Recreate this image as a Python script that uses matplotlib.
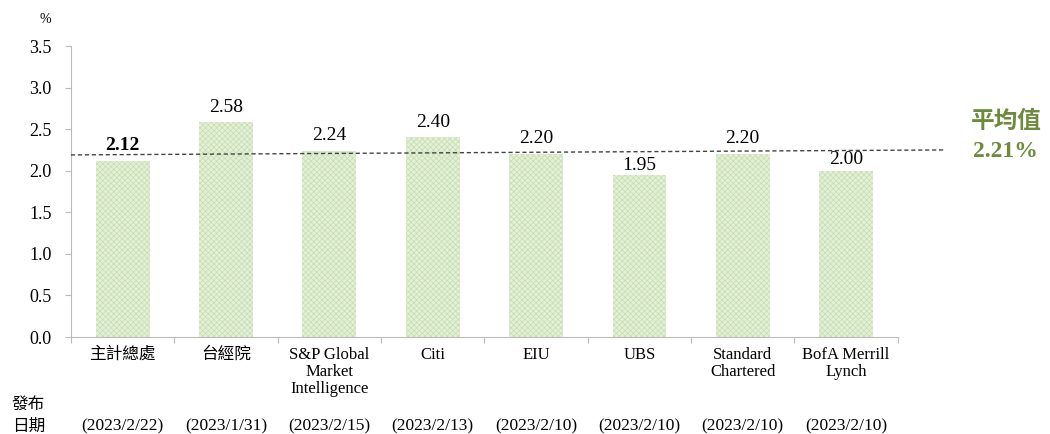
import matplotlib.pyplot as plt
import numpy as np

plt.rcParams['font.family'] = ['Liberation Serif', 'Noto Sans CJK TC', 'DejaVu Sans']
plt.rcParams['hatch.linewidth'] = 0.5

institutions = ['主計總處', '台經院', 'S&P Global\nMarket\nIntelligence', 'Citi', 'EIU', 'UBS',
                'Standard\nChartered', 'BofA Merrill\nLynch']
dates = ['(2023/2/22)', '(2023/1/31)', '(2023/2/15)', '(2023/2/13)', '(2023/2/10)',
         '(2023/2/10)', '(2023/2/10)', '(2023/2/10)']
growth = [2.12, 2.58, 2.24, 2.40, 2.20, 1.95, 2.20, 2.00]
average = 2.21

fig = plt.figure(figsize=(10.5, 4.34), dpi=100)
ax = fig.add_axes([0.0676, 0.2235, 0.7874, 0.6705])

x = np.arange(len(growth))
ax.bar(x, growth, width=0.52, color='#e3efd8', edgecolor='#c4deac', hatch='xxxxxx', linewidth=0)

# labels near the average line sit a bit lower in the original
offsets = [5, 5, 5, 5, 5, 0.5, 5, 2]
for i, v in enumerate(growth):
    ax.annotate(f'{v:.2f}', (i, v), xytext=(0, offsets[i]), textcoords='offset points',
                ha='center', va='bottom', fontsize=14,
                fontweight='bold' if i == 0 else 'normal', color='black', zorder=4)

# average line, runs past the right edge of the axes
ax.plot([-0.5, len(growth) - 0.5 + 0.45], [average - 0.02, average + 0.04], ls=(0, (3, 2)),
        color='#444444', lw=1.0, clip_on=False, zorder=3)

ax.set_xlim(-0.5, len(growth) - 0.5)
ax.set_ylim(0, 3.5)
ax.set_yticks(np.arange(0, 3.51, 0.5))
ax.set_yticklabels([f'{t:.1f}' for t in np.arange(0, 3.51, 0.5)], fontsize=13)
ax.set_xticks(np.arange(-0.5, len(growth), 1.0))
ax.set_xticklabels([])
ax.tick_params(axis='y', length=4, color='#bbbbbb', pad=10, direction='out')
ax.tick_params(axis='x', length=4, color='#bbbbbb', direction='out')
for s in ['top', 'right']:
    ax.spines[s].set_visible(False)
for s in ['left', 'bottom']:
    ax.spines[s].set_color('#bbbbbb')

for i, name in enumerate(institutions):
    ax.text(i, -0.12, name, ha='center', va='top', fontsize=12, linespacing=1.1)
    ax.text(i, -1.08, dates[i], ha='center', va='center', fontsize=12.5)

fig.text(0.043, 0.955, '%', fontsize=10, ha='center', va='center')
fig.text(0.011, 0.067, '發布', fontsize=12, ha='left', va='center')
fig.text(0.011, 0.016, '日期', fontsize=12, ha='left', va='center')

fig.text(0.958, 0.718, '平均值', fontsize=17, fontweight='bold', color='#6e8b3d', ha='center', va='center')
fig.text(0.958, 0.65, f'{average:.2f}%', fontsize=17, fontweight='bold', color='#6e8b3d', ha='center', va='center')

fig.savefig('out.png', dpi=100)
